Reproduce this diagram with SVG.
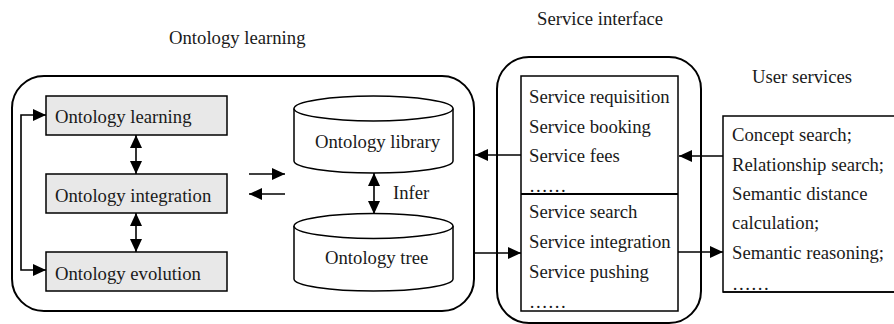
<svg xmlns="http://www.w3.org/2000/svg" width="894" height="324" viewBox="0 0 894 324">
<style>
text{font-family:"Liberation Serif","Times New Roman",serif;font-size:18.7px;fill:#1a1a1a}
.cont{fill:none;stroke:#000;stroke-width:2}
.box{fill:#e8e8e8;stroke:#000;stroke-width:1.5}
.wbox{fill:#fff;stroke:#000;stroke-width:1.5}
.cyl{fill:#fff;stroke:#000;stroke-width:1.5}
.conn{fill:none;stroke:#000;stroke-width:1.6}
</style>
<defs>
<marker id="ah" markerUnits="userSpaceOnUse" markerWidth="14" markerHeight="14" refX="13" refY="7" orient="auto-start-reverse" viewBox="0 0 14 14">
<path d="M0,1 L13,7 L0,13 z" fill="#000"/>
</marker>
</defs>
<rect width="894" height="324" fill="#fff"/>

<g id="titles">
<text x="169" y="44">Ontology learning</text>
<text x="537" y="25">Service interface</text>
<text x="752" y="83">User services</text>
</g>

<g id="ontology-container">
<rect class="cont" x="12" y="76" width="462" height="235" rx="32" ry="32"/>
</g>

<g id="node-learning">
<rect class="box" x="46" y="96" width="181" height="39"/>
<text x="55" y="123">Ontology learning</text>
</g>
<g id="node-integration">
<rect class="box" x="46" y="174" width="181" height="39"/>
<text x="55" y="202">Ontology integration</text>
</g>
<g id="node-evolution">
<rect class="box" x="46" y="252" width="181" height="39"/>
<text x="55" y="280">Ontology evolution</text>
</g>

<g id="node-library">
<path class="cyl" d="M294,108.5 V161 A79.5,12 0 0 0 453,161 V108.5"/>
<ellipse class="cyl" cx="373.5" cy="108.5" rx="79.5" ry="12.5"/>
<text x="315" y="148">Ontology library</text>
</g>
<g id="node-tree">
<path class="cyl" d="M294,226 V279 A79.5,12 0 0 0 453,279 V226"/>
<ellipse class="cyl" cx="373.5" cy="226" rx="79.5" ry="12.5"/>
<text x="325" y="264">Ontology tree</text>
</g>

<g id="service-interface">
<rect class="cont" x="497" y="57" width="204" height="266" rx="32" ry="32"/>
<rect class="wbox" x="521" y="76" width="157" height="235"/>
<line x1="521" y1="194" x2="678" y2="194" stroke="#000" stroke-width="1.8"/>
<text x="529" y="103">Service requisition</text>
<text x="529" y="133">Service booking</text>
<text x="529" y="162">Service fees</text>
<text x="529" y="192">……</text>
<text x="529" y="218">Service search</text>
<text x="529" y="248">Service integration</text>
<text x="529" y="278">Service pushing</text>
<text x="529" y="308">……</text>
</g>

<g id="user-services">
<rect class="wbox" x="723" y="116" width="180" height="176"/>
<text x="732" y="141">Concept search;</text>
<text x="732" y="171">Relationship search;</text>
<text x="732" y="200">Semantic distance</text>
<text x="732" y="229">calculation;</text>
<text x="732" y="259">Semantic reasoning;</text>
<text x="732" y="290">……</text>
<line x1="723" y1="292" x2="894" y2="292" stroke="#000" stroke-width="1.5"/>
</g>

<g id="connectors">
<path class="conn" d="M46,115 H21 V270 H46" marker-start="url(#ah)" marker-end="url(#ah)"/>
<path class="conn" d="M136,135 V174" marker-start="url(#ah)" marker-end="url(#ah)"/>
<path class="conn" d="M136,213 V252" marker-start="url(#ah)" marker-end="url(#ah)"/>
<path class="conn" d="M249,174 H285" marker-end="url(#ah)"/>
<path class="conn" d="M285,194 H249" marker-end="url(#ah)"/>
<path class="conn" d="M374,173 V214" marker-start="url(#ah)" marker-end="url(#ah)"/>
<text x="393" y="199">Infer</text>
<path class="conn" d="M723,156 H679" marker-end="url(#ah)"/>
<path class="conn" d="M521,155 H475" marker-end="url(#ah)"/>
<path class="conn" d="M475,253 H521" marker-end="url(#ah)"/>
<path class="conn" d="M678,252 H723" marker-end="url(#ah)"/>
</g>
</svg>
